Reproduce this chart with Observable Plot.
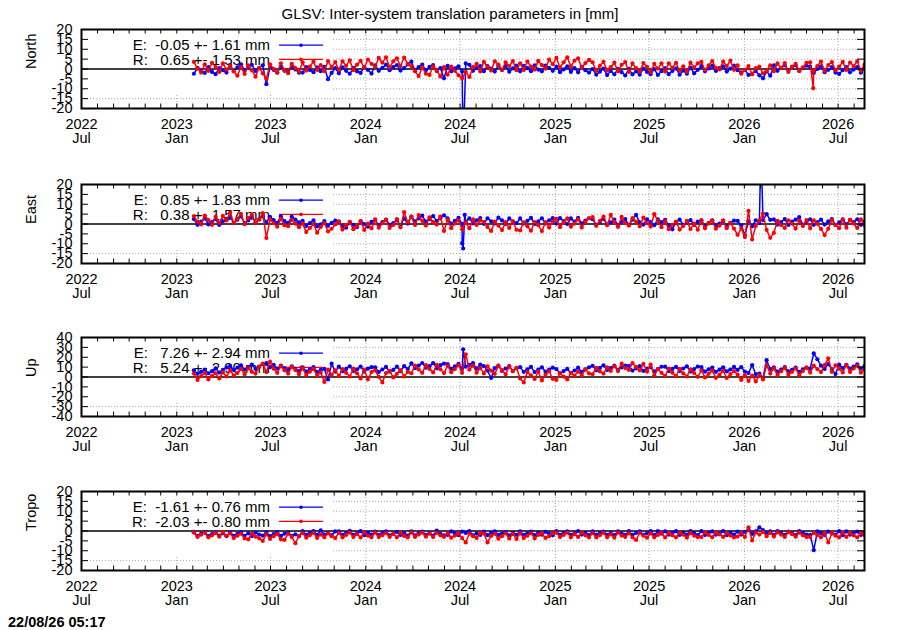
<!DOCTYPE html>
<html><head><meta charset="utf-8">
<script src="https://cdn.jsdelivr.net/npm/d3@7"></script>
<script src="https://cdn.jsdelivr.net/npm/@observablehq/plot@0.6"></script>
<style>
body{margin:0;background:#fff;}
#wrap{position:relative;width:900px;height:630px;font-family:"Liberation Sans",Arial,sans-serif;color:#000;}
.title{position:absolute;left:0;width:900px;top:5px;text-align:center;font-size:15px;z-index:2;}
.stamp{position:absolute;left:8px;top:614px;font-size:14.5px;font-weight:bold;z-index:2;}
.panel{position:absolute;left:0;line-height:0;}
</style></head><body>
<div id="wrap"><div class="title">GLSV: Inter-system translation parameters in [mm]</div><div class="stamp">22/08/26 05:17</div></div>
<script>
// ---- time axis ----
const xDomain = ["2022-07-01", "2026-08-21"];
const xTickDates = ["2022-07-01","2023-01-01","2023-07-01","2024-01-01","2024-07-01","2025-01-01","2025-07-01","2026-01-01","2026-07-01"];
const xTickYears = ["2022","2023","2023","2024","2024","2025","2025","2026","2026"];
const xTickMonths = ["Jul","Jan","Jul","Jan","Jul","Jan","Jul","Jan","Jul"];
const yTicks20 = [-20,-15,-10,-5,0,5,10,15,20];
const yTicks40 = [-40,-30,-20,-10,0,10,20,30,40];
// weekly samples starting here
const startDate = "2023-02-03";
const stepDays = 7;

// ---- North ----
const northE = [
-2.4,0.6,-0.8,-2.0,0.9,-1.5,-2.6,0.4,-0.6,-1.8,
2.0,-0.9,0.8,2.4,-0.6,1.2,2.1,-1.0,0.5,1.9,
-7.7,1.0,-0.4,-1.8,1.2,-0.9,-1.5,0.9,-0.2,-1.9,
-1.8,1.0,-0.5,-1.6,0.8,-1.1,1.1,-5.2,-2.0,0.5,
-2.2,0.8,-0.9,-2.4,0.6,-1.2,-2.0,0.9,-0.4,-2.3,
1.9,-0.9,0.6,2.2,-0.6,1.0,2.0,-0.8,0.4,2.3,
3.7,-0.8,0.9,2.2,-0.6,1.1,2.0,-1.0,0.4,-4.7,
1.6,-1.2,0.3,1.4,-1.3,2.8,2.1,-0.9,0.4,1.5,
-1.1,1.5,0.2,-1.3,1.8,-0.5,1.6,-1.4,0.3,1.7,
-1.2,1.6,0.4,-1.1,1.9,-0.3,-1.2,1.7,0.6,-0.9,
1.2,-1.6,-0.2,1.3,-1.5,0.4,-1.7,1.1,-0.6,-1.8,
0.0,-2.9,-1.4,0.2,-3.1,-1.0,-2.7,0.1,-1.6,-3.3,
0.1,-2.7,-1.2,-2.9,0.2,-1.5,-2.6,0.0,-3.0,-1.1,
0.4,-2.6,-1.0,0.3,-2.9,-0.8,-2.4,0.6,-2.2,-0.4,
1.5,-1.2,0.3,1.6,-1.0,0.5,1.4,-1.3,0.2,1.7,
-0.6,-1.8,-0.4,-3.0,-2.5,-1.0,-3.2,-4.7,-1.2,-3.4,
1.8,-0.9,0.6,2.0,-0.7,1.0,1.9,-1.0,0.4,1.7,
1.2,-2.0,0.0,1.3,-1.6,-0.4,1.0,-1.8,-2.5,-0.6,
0.9,-1.7,-0.3,1.0,-1.9,0.2];
const northR = [
3.6,0.2,-1.8,2.4,-0.9,3.1,1.0,-1.5,2.8,-0.3,
1.6,-1.2,-3.4,0.9,-2.5,1.8,-0.6,-3.9,0.6,-2.2,
-5.0,2.4,0.1,-1.8,2.9,-0.6,-2.1,2.6,0.5,-1.4,
3.4,-0.8,1.2,3.8,-0.5,2.0,-1.1,4.0,0.9,3.5,
-0.4,3.9,1.6,4.4,-0.6,2.2,4.1,0.5,4.8,2.6,
1.0,5.6,3.2,5.9,0.8,3.9,5.4,1.5,5.8,2.6,
1.5,-1.2,-3.6,0.8,-2.4,-3.0,1.3,-0.8,-3.8,0.9,
-2.9,1.2,-0.9,-3.2,-4.7,-1.5,-4.0,0.9,2.6,-1.2,
3.6,1.0,-0.8,3.9,2.2,-0.4,3.4,1.5,4.0,-0.6,
2.9,-0.5,3.8,1.2,-0.3,4.1,2.0,0.2,4.8,2.4,
5.6,0.8,3.4,5.9,1.2,4.2,5.4,0.6,3.0,4.6,
3.4,-1.0,1.6,3.6,-0.8,0.9,3.2,-1.2,2.1,3.5,
-1.5,2.8,0.4,-1.2,3.0,1.1,-1.6,2.6,0.2,2.9,
-1.3,2.9,0.6,3.1,-1.0,1.4,-1.5,3.2,0.8,2.8,
3.6,-0.5,1.8,4.0,0.6,-0.2,3.8,1.5,4.2,-0.4,
1.8,-2.4,-0.5,1.5,-2.7,0.4,1.2,-2.2,-0.9,1.9,
-1.2,2.8,0.5,3.0,-1.5,1.2,2.6,-1.0,0.8,3.1,
3.4,-0.8,1.5,3.8,-1.0,2.0,3.5,-0.6,1.2,3.6,
-0.5,3.3,1.4,3.9,-0.8,2.2];
const northESpikes = [["2024-07-07", -40]];
const northRSpikes = [["2026-05-14", -9.7]];

// ---- East ----
const eastE = [
2.5,-0.4,1.2,2.8,-0.2,0.9,2.4,-0.5,1.4,2.6,
3.5,0.6,2.2,3.8,0.4,1.8,3.6,0.8,2.4,3.9,
0.8,3.6,2.0,0.6,3.9,1.5,0.5,3.7,2.2,0.8,
1.6,-1.0,0.4,1.8,-1.2,-0.2,1.5,-0.9,0.6,1.7,
1.2,-1.5,-1.9,1.0,-0.4,-1.6,1.3,0.0,-1.4,1.1,
2.0,-0.6,0.9,2.2,-0.4,0.5,1.9,-0.7,2.8,0.2,
3.8,1.4,2.8,4.2,1.2,2.4,4.0,1.6,3.0,4.4,
2.9,0.2,1.6,3.1,0.0,1.2,2.8,0.3,1.8,3.0,
0.1,2.9,1.4,0.3,3.2,1.8,0.0,2.8,1.2,0.4,
2.8,0.2,1.6,3.1,0.0,1.3,2.9,0.3,1.8,3.0,
0.2,3.0,1.5,0.0,2.8,1.2,3.1,0.3,1.7,2.9,
2.4,-0.4,1.1,2.6,-0.3,0.8,2.2,-0.5,1.3,2.5,
-0.5,2.2,4.6,0.8,-0.3,2.4,1.0,-0.6,2.3,0.9,
2.1,-0.6,-2.7,1.0,2.2,-0.4,0.7,2.0,-0.5,1.2,
1.8,-1.0,0.5,1.9,-0.8,0.2,1.6,-1.1,0.6,1.7,
1.6,-0.8,-5.6,1.4,-1.2,1.9,0.5,2.0,5.0,2.1,
2.3,-0.3,1.0,2.5,-0.5,1.2,2.2,3.5,-0.4,1.1,
2.4,-0.4,0.9,2.2,-0.3,1.3,2.5,-0.5,0.8,2.3,
-0.2,2.1,0.9,2.4,-0.4,1.2];
const eastR = [
4.0,1.2,-0.2,4.3,2.0,-0.4,3.8,0.6,4.1,1.8,
5.8,0.4,2.6,5.2,-0.1,3.0,4.8,0.6,2.2,5.5,
-7.1,2.3,0.5,-1.4,2.6,-0.6,-1.1,2.1,0.2,-1.6,
0.3,-4.1,-2.0,0.0,-4.4,-1.5,0.5,-3.8,-2.4,-0.2,
1.4,-2.8,-0.6,1.1,-2.6,-1.2,1.5,-3.0,0.2,-2.2,
2.3,-1.9,0.4,2.1,-2.0,-0.5,2.5,-1.7,6.0,0.8,
3.6,-0.5,4.5,1.6,-0.8,3.4,0.9,-0.3,3.8,-3.5,
2.2,-2.1,0.3,1.9,-2.7,0.8,-2.2,2.3,-0.5,1.8,
1.1,-1.5,-3.5,1.2,-0.8,-3.1,0.9,-2.0,1.3,-2.9,
-3.3,0.8,-1.2,-3.4,1.0,-0.6,-3.6,0.9,-1.8,1.3,
2.6,-1.6,0.8,2.8,-1.4,0.2,2.4,-1.8,1.1,2.9,
3.5,-0.9,1.6,3.8,-0.6,4.6,1.0,-1.5,3.6,0.4,
-0.8,3.0,1.2,-1.2,3.3,0.4,-1.3,5.0,1.6,-1.6,
1.5,-2.6,-0.4,1.2,-2.8,-1.0,1.6,-2.5,0.2,-2.9,
1.9,-2.2,0.3,1.7,-2.4,-0.8,1.8,-2.1,0.5,-2.3,
-5.5,-2.2,-6.6,6.6,-7.8,-1.0,1.8,5.3,-3.0,-7.0,
-4.5,1.6,-0.5,-2.0,1.9,0.2,-2.3,1.7,-1.0,2.0,
-2.2,1.9,0.1,-2.5,-5.6,-2.4,2.0,-0.4,-2.1,2.2,
-1.9,2.1,0.3,-2.0,2.3,-0.6];
const eastESpikes = [["2024-07-05", -9.8], ["2024-07-07", -12.4], ["2024-07-10", 4.6], ["2026-02-02", 40]];
const eastRSpikes = [];

// ---- Up ----
const upE = [
6.8,3.2,5.2,7.5,3.8,6.0,8.8,4.5,7.2,9.5,
11.2,7.0,9.4,11.8,7.5,10.0,12.6,8.4,10.6,13.0,
14.0,10.0,12.2,8.5,11.5,9.0,7.0,10.8,8.2,6.0,
9.8,5.5,7.8,10.0,5.0,7.2,8.2,-2.5,13.5,5.5,
10.5,5.8,8.2,10.8,6.0,7.8,10.6,5.5,8.4,10.0,
9.8,5.0,7.6,10.2,5.4,7.2,10.5,5.8,11.0,8.0,
13.8,9.0,11.6,14.2,9.4,11.0,14.0,8.8,12.0,13.6,
13.0,8.2,10.8,13.4,8.0,10.5,12.2,14.0,8.5,12.5,
11.0,6.5,-1.0,9.0,11.5,6.2,8.6,11.0,6.0,8.8,
10.0,5.2,7.8,10.2,5.0,7.4,9.8,5.4,7.6,9.4,
8.0,3.8,6.0,8.2,4.0,6.6,9.4,5.2,7.8,9.8,
11.4,6.8,9.2,11.8,7.0,9.0,11.5,7.2,9.6,11.6,
11.2,6.5,8.8,11.0,6.2,8.4,10.0,5.6,8.0,10.4,
10.5,5.8,8.2,10.2,6.0,8.6,10.8,5.5,8.0,10.6,
10.0,5.5,7.8,9.6,5.2,7.4,9.8,5.6,7.6,10.2,
7.2,10.0,5.5,4.0,12.0,3.0,3.5,-1.0,17.0,8.0,
9.8,5.4,7.6,10.0,5.6,7.2,9.5,5.2,7.8,9.6,
8.5,24.0,18.0,11.5,8.2,13.0,8.0,3.0,12.5,9.0,
12.4,8.5,10.6,12.8,8.8,11.0];
const upR = [
3.5,-3.0,0.8,4.2,-2.5,1.2,3.8,-1.5,4.6,0.5,
6.8,1.5,4.0,8.2,2.8,9.0,5.2,3.5,10.2,13.5,
5.0,15.5,8.4,4.2,11.0,6.8,3.5,10.2,7.0,2.8,
8.8,2.0,5.4,8.2,1.5,4.6,-5.0,7.4,2.2,6.8,
0.8,8.0,4.2,0.5,8.4,3.8,-1.5,7.6,-2.5,5.0,
6.8,0.2,-5.5,4.0,6.2,-0.4,3.2,7.0,0.6,5.2,
3.8,11.5,7.6,4.2,12.0,8.2,4.6,12.4,7.8,4.0,
11.6,4.8,8.0,12.0,4.2,23.0,7.5,11.5,4.4,9.0,
3.6,10.8,6.4,3.2,11.2,7.0,2.8,10.5,5.8,9.2,
-1.5,-5.5,5.2,1.6,-2.0,5.5,-3.5,2.2,5.8,-1.8,
-3.0,3.8,0.4,-2.5,4.2,1.5,5.5,1.5,7.8,3.6,
2.8,9.2,5.6,3.5,9.8,6.2,11.0,6.0,13.5,9.0,
7.2,14.0,10.2,6.8,13.2,5.5,12.5,1.5,8.0,4.2,
1.0,8.5,4.4,0.8,8.2,3.6,0.5,7.8,4.0,0.2,
6.8,-0.5,3.2,6.5,-0.8,2.4,6.2,-1.0,3.0,6.0,
2.5,-3.0,1.8,-4.0,1.5,-4.5,2.0,-2.5,12.0,3.5,
8.8,2.0,5.8,9.2,2.4,5.2,8.6,1.8,6.0,9.4,
4.5,11.5,8.0,5.0,12.0,19.0,5.2,11.8,8.4,4.6,
12.2,5.0,8.6,11.4,4.4,8.0];
const upESpikes = [["2024-07-07", 28]];
const upRSpikes = [];

// ---- Tropo ----
const tropoE = [
-0.6,-2.4,-1.4,-0.5,-2.5,-1.6,-0.7,-2.3,-1.2,-2.6,
-0.5,-2.5,-1.5,-0.6,-2.4,-1.2,-2.6,-0.7,-1.8,-2.3,
-0.7,-2.6,-1.6,-0.6,-2.5,-1.4,-0.8,-2.4,-1.7,-2.7,
-0.1,-1.9,-1.0,0.0,-2.0,0.3,-1.8,-0.9,-2.1,-0.2,
-0.2,-2.0,-1.0,0.1,-1.9,-1.2,-0.1,-2.1,-0.8,-1.8,
-0.3,-2.1,-1.1,-0.2,-2.2,-1.4,-0.4,-2.0,-1.0,-2.3,
-0.2,-2.2,-1.2,-0.3,-2.1,-1.0,-2.3,0.2,-1.4,-2.2,
-2.0,-0.2,-1.2,-2.1,-0.3,-1.0,0.0,-2.2,-1.3,-2.0,
-0.3,-2.1,-1.1,-0.2,-2.0,-1.3,-0.4,-2.2,-0.9,-1.9,
-0.2,-2.0,-1.2,-0.3,-2.1,-0.9,-1.9,-0.4,-1.4,-2.2,
-0.1,-1.9,-1.0,-0.2,-2.0,-1.1,0.0,-1.8,-0.9,-2.1,
-0.2,-2.0,-1.1,-0.3,-1.9,-1.0,-2.1,-0.2,-1.3,-2.0,
-0.1,-2.0,-1.0,-0.2,-1.9,-1.2,0.0,-2.1,0.0,-1.4,
-0.2,-1.9,-1.1,-0.1,-2.0,-0.9,-1.8,0.0,-1.2,-2.1,
-0.1,-2.0,-1.0,-0.2,-1.9,-1.3,0.0,-2.1,-0.8,-1.8,
-0.3,-1.8,-0.4,0.8,-1.5,-0.2,1.8,0.4,-1.2,-0.2,
-2.0,-0.1,-1.1,-1.9,-0.3,-1.2,-2.1,0.0,-1.0,-1.8,
-1.9,-9.7,-0.2,-1.1,-2.0,-0.3,-1.3,-1.8,-0.1,-2.1,
-0.2,-1.9,-1.0,-0.3,-2.0,-1.2];
const tropoR = [
-0.8,-3.0,-1.9,-0.9,-3.2,-2.2,-1.0,-2.9,-0.7,-2.4,
-1.2,-3.6,-2.4,-1.4,-3.8,-4.2,-1.5,-2.8,-3.7,-5.0,
-1.6,-4.0,-2.6,-1.5,-4.2,-4.5,-1.4,-3.0,-6.2,-2.4,
-1.0,-3.4,-2.2,-0.9,-3.5,-1.8,-3.2,-1.2,-2.6,-3.6,
-0.9,-3.2,-2.0,-0.8,-3.1,-1.6,-3.3,-0.7,-2.4,-3.2,
-0.8,-3.1,-2.1,-1.0,-3.0,-1.5,-3.2,-0.9,-2.5,-3.3,
-0.7,-3.0,-1.8,-0.8,-2.9,-1.4,-3.1,-0.9,-2.2,-3.0,
-1.0,-3.4,-2.3,-1.2,-3.6,-5.8,-1.3,-2.6,-3.5,-1.0,
-1.3,-5.8,-2.5,-1.4,-3.9,-2.6,-1.2,-3.8,-1.5,-4.0,
-1.2,-3.6,-2.4,-1.1,-3.7,-2.0,-1.3,-3.5,-2.6,-1.0,
-0.9,-3.1,-2.0,-0.8,-3.2,-1.6,-3.0,-0.7,-2.2,-3.3,
-1.0,-3.3,-2.1,-0.9,-3.2,-1.7,-3.4,-0.8,-2.3,-3.1,
-1.1,-3.3,-4.5,-1.0,-2.4,-3.4,-1.2,-3.2,-2.0,-0.9,
-3.3,-1.0,-2.2,-3.2,-0.9,-1.9,-3.4,-1.1,-2.4,-3.1,
-3.1,-0.9,-2.0,-3.2,-0.8,-1.7,-3.0,-1.0,-2.3,-3.3,
-2.8,-1.0,-3.0,1.8,-4.8,-0.8,-1.8,-0.4,-2.6,-0.9,
-2.8,-0.7,-1.9,-3.0,-0.6,-1.6,-2.9,-0.8,-2.2,-3.1,
-3.1,-1.0,-2.0,-3.2,-0.9,-5.8,-1.1,-2.4,-3.2,-0.9,
-3.0,-1.0,-2.2,-3.2,-0.9,-2.0];
const tropoESpikes = [];
const tropoRSpikes = [];

const panelNames = ["North","East","Up","Tropo"];
const legendE = ["E:  -0.05 +- 1.61 mm","E:   0.85 +- 1.83 mm","E:   7.26 +- 2.94 mm","E:  -1.61 +- 0.76 mm"];
const legendR = ["R:   0.65 +- 1.53 mm","R:   0.38 +- 1.57 mm","R:   5.24 +- 2.90 mm","R:  -2.03 +- 0.80 mm"];

// ---- build ----
const parse = d3.utcParse("%Y-%m-%d");
const start = parse(startDate);
function series(vals, spikes) {
  const pts = vals.map((v, i) => ({date: d3.utcDay.offset(start, i * stepDays), value: v}));
  spikes.forEach(([d, v]) => pts.push({date: parse(d), value: v}));
  pts.sort((a, b) => a.date - b.date);
  return pts;
}
const x0 = parse(xDomain[0]), x1 = parse(xDomain[1]);
const majorTicks = xTickDates.map((d, i) => ({date: parse(d), label: xTickYears[i] + "\n" + xTickMonths[i]}));
const minorTicks = d3.utcMonth.range(x0, x1);

const FONT = '"Liberation Sans", Arial, sans-serif';
const FW = 783, FH = 79;
const BLUE = "#0000ff", RED = "#ff0000";

function legendMark(items) {
  return function (index, scales, values, dim) {
    const g = d3.create("svg:g");
    const lx = dim.marginLeft, ty = dim.marginTop;
    items.forEach((it, k) => {
      const cy = ty + 16.2 + k * 14.2;
      g.append("text").attr("x", lx + 189).attr("y", cy).attr("dy", "0.35em")
        .attr("text-anchor", "end").attr("xml:space", "preserve").style("white-space", "pre")
        .attr("font-size", 15).attr("fill", "black").text(it.text);
      g.append("line").attr("x1", lx + 198).attr("x2", lx + 242).attr("y1", cy).attr("y2", cy)
        .attr("stroke", it.color).attr("stroke-width", 1.2);
      g.append("circle").attr("cx", lx + 220).attr("cy", cy).attr("r", 1.8).attr("fill", it.color);
    });
    return g.node();
  };
}

function panel(k, E, R, lim, yTicks) {
  const grid = {stroke: "#a8a8a8", strokeWidth: 1, strokeDasharray: "1,2"};
  return Plot.plot({
    width: 900, height: 10 + FH + 50,
    marginLeft: 81, marginRight: 36, marginTop: 10, marginBottom: 50,
    style: {fontFamily: FONT, fontSize: "14.5px", background: "white", overflow: "visible"},
    x: {type: "utc", domain: [x0, x1], axis: null},
    y: {domain: [-lim, lim], axis: null},
    marks: [
      Plot.ruleX(majorTicks.slice(1), {x: "date", ...grid}),
      Plot.ruleY(yTicks.filter(v => v !== 0 && Math.abs(v) !== lim), {y: d => d, ...grid}),
      Plot.frame({fill: "white", insetRight: 533, insetBottom: 15}),
      Plot.ruleY([0], {y: d => d, stroke: "black", strokeWidth: 1.4}),
      legendMark([{text: legendE[k], color: BLUE}, {text: legendR[k], color: RED}]),
      Plot.line(E, {x: "date", y: "value", stroke: BLUE, strokeWidth: 1.5, clip: true}),
      Plot.dot(E, {x: "date", y: "value", fill: BLUE, r: 2.1, clip: true}),
      Plot.line(R, {x: "date", y: "value", stroke: RED, strokeWidth: 1.5, clip: true}),
      Plot.dot(R, {x: "date", y: "value", fill: RED, r: 2.1, clip: true}),
      Plot.tickX(minorTicks, {x: d => d, stroke: "black", insetTop: FH - 4.5}),
      Plot.tickX(minorTicks, {x: d => d, stroke: "black", insetBottom: FH - 4.5}),
      Plot.tickY(yTicks, {y: d => d, stroke: "black", insetRight: FW - 7}),
      Plot.tickY(yTicks, {y: d => d, stroke: "black", insetLeft: FW - 7}),
      Plot.text(yTicks, {y: d => d, text: d => String(d), frameAnchor: "left", textAnchor: "end", dx: -9, fill: "black"}),
      Plot.text(majorTicks, {x: "date", text: "label", frameAnchor: "bottom", lineAnchor: "top", dy: 10, fill: "black", lineHeight: 1.0}),
      Plot.frame({stroke: "black", strokeWidth: 2}),
      Plot.text([panelNames[k]], {frameAnchor: "left", rotate: -90, dx: -50, fill: "black"})
    ]
  });
}

const wrap = document.getElementById("wrap");
const defs = [
  [northE, northESpikes, northR, northRSpikes, 20, yTicks20],
  [eastE, eastESpikes, eastR, eastRSpikes, 20, yTicks20],
  [upE, upESpikes, upR, upRSpikes, 40, yTicks40],
  [tropoE, tropoESpikes, tropoR, tropoRSpikes, 20, yTicks20]
];
const frameTops = [29.3, 183.5, 336.7, 490.7];
defs.forEach(([e, es, r, rs, lim, yt], k) => {
  const svg = panel(k, series(e, es), series(r, rs), lim, yt);
  const div = document.createElement("div");
  div.className = "panel";
  div.style.top = (frameTops[k] - 10) + "px";
  div.appendChild(svg);
  wrap.appendChild(div);
});
</script>
</body></html>
